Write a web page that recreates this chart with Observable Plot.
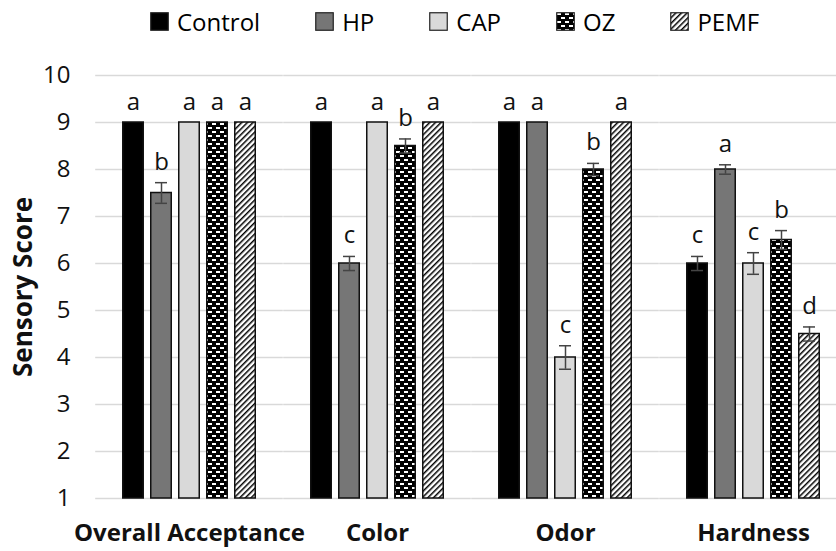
<!DOCTYPE html>
<html><head><meta charset="utf-8">
<script src="https://cdn.jsdelivr.net/npm/d3@7"></script>
<script src="https://cdn.jsdelivr.net/npm/@observablehq/plot@0.6"></script>
<style>
body{margin:0;background:#fff;font-family:"Open Sans",sans-serif;}
#legend{height:50px;display:flex;align-items:center;padding-left:150px;padding-bottom:8px;font-size:24px;color:#000;box-sizing:border-box}
.item{display:flex;align-items:center;margin-right:55px}
.item svg{margin-right:8px;display:block}
</style></head><body>
<svg width="0" height="0" style="position:absolute"><defs>
<pattern id="ozPat" width="8" height="8" patternUnits="userSpaceOnUse">
<rect width="8" height="8" fill="#000"/><rect x="1" y="1" width="4" height="2" fill="#fff"/><rect x="5" y="5" width="3" height="2" fill="#fff"/><rect x="0" y="5" width="1" height="2" fill="#fff"/>
</pattern>
<pattern id="pemfPat" width="4" height="4" patternUnits="userSpaceOnUse" patternTransform="rotate(45)">
<rect width="4" height="4" fill="#fff"/><rect x="0" y="0" width="1.5" height="4" fill="#000"/>
</pattern>
</defs></svg>
<div id="legend"></div>
<div id="chart"></div>
<script>
const categories = ["Overall Acceptance", "Color", "Odor", "Hardness"];
const treatments = ["Control", "HP", "CAP", "OZ", "PEMF"];
const fills = ["#000000", "#767676", "#d9d9d9", "url(#ozPat)", "url(#pemfPat)"];

const controlScores = [9, 9, 9, 6];
const hpScores      = [7.5, 6, 9, 8];
const capScores     = [9, 9, 4, 6];
const ozScores      = [9, 8.5, 8, 6.5];
const pemfScores    = [9, 9, 9, 4.5];

const controlErr = [0, 0, 0, 0.15];
const hpErr      = [0.22, 0.15, 0, 0.1];
const capErr     = [0, 0, 0.25, 0.23];
const ozErr      = [0, 0.15, 0.13, 0.2];
const pemfErr    = [0, 0, 0, 0.15];

const controlSig = ["a", "a", "a", "c"];
const hpSig      = ["b", "c", "a", "a"];
const capSig     = ["a", "a", "c", "c"];
const ozSig      = ["a", "b", "b", "b"];
const pemfSig    = ["a", "a", "a", "d"];

const yTicks = [1, 2, 3, 4, 5, 6, 7, 8, 9, 10];
const baseline = 1;

const scoreSeries = [controlScores, hpScores, capScores, ozScores, pemfScores];
const errSeries = [controlErr, hpErr, capErr, ozErr, pemfErr];
const sigSeries = [controlSig, hpSig, capSig, ozSig, pemfSig];

const rows = [];
categories.forEach((c, i) => treatments.forEach((t, j) => rows.push({
  category: c, treatment: t, score: scoreSeries[j][i], err: errSeries[j][i], sig: sigSeries[j][i]
})));
const errRows = rows.filter(d => d.err > 0);

// legend
const legend = document.getElementById("legend");
treatments.forEach((t, j) => {
  const item = document.createElement("div");
  item.className = "item";
  item.innerHTML = `<svg width="19" height="19"><rect x="0.75" y="0.75" width="17.5" height="17.5" fill="${fills[j]}" stroke="#222" stroke-width="1.2"/></svg><span>${t}</span>`;
  legend.appendChild(item);
});

const chart = Plot.plot({
  width: 836, height: 501,
  marginLeft: 95, marginRight: 0, marginTop: 25, marginBottom: 53,
  style: {fontFamily: "'Open Sans', sans-serif", fontSize: "24px", color: "#111", background: "transparent"},
  fx: {domain: categories, range: [95, 847], paddingInner: 0.2, paddingOuter: 0.1, axis: null, label: null},
  x: {domain: treatments, padding: 0.2, axis: null},
  y: {domain: [1, 10], axis: null},
  color: {domain: treatments, range: fills},
  marks: [
    Plot.ruleY(yTicks, {y: d => d, stroke: "#d9d9d9", strokeWidth: 1.5, insetLeft: -18.8, insetRight: -18.8}),
    Plot.axisY({ticks: yTicks, tickSize: 0, tickPadding: 44, tickFormat: d => String(d), fontSize: 24, label: null}),
    Plot.axisFx({anchor: "bottom", tickSize: 0, tickPadding: 25, fontSize: 24, fontWeight: "bold", label: null}),
    Plot.text(["Sensory Score"], {facet: "super", frameAnchor: "left", text: d => d, rotate: -90, dx: -91, fontSize: 26, fontWeight: "bold", textAnchor: "middle"}),
    Plot.barY(rows, {fx: "category", x: "treatment", y1: baseline, y2: "score", fill: "treatment", stroke: "#111", strokeWidth: 1.5, insetLeft: 0.75, insetRight: 0.75}),
    Plot.ruleX(errRows, {fx: "category", x: "treatment", y1: d => d.score - d.err, y2: d => d.score + d.err, stroke: "#444", strokeWidth: 1.5}),
    Plot.tickY(errRows, {fx: "category", x: "treatment", y: d => d.score + d.err, stroke: "#444", strokeWidth: 1.5, insetLeft: 5, insetRight: 5}),
    Plot.tickY(errRows, {fx: "category", x: "treatment", y: d => d.score - d.err, stroke: "#444", strokeWidth: 1.5, insetLeft: 5, insetRight: 5}),
    Plot.text(rows, {fx: "category", x: "treatment", y: d => d.score + d.err, text: "sig", lineAnchor: "bottom", dy: -13, fontSize: 24, fill: "#111"})
  ]
});
document.getElementById("chart").appendChild(chart);
</script>
</body></html>
